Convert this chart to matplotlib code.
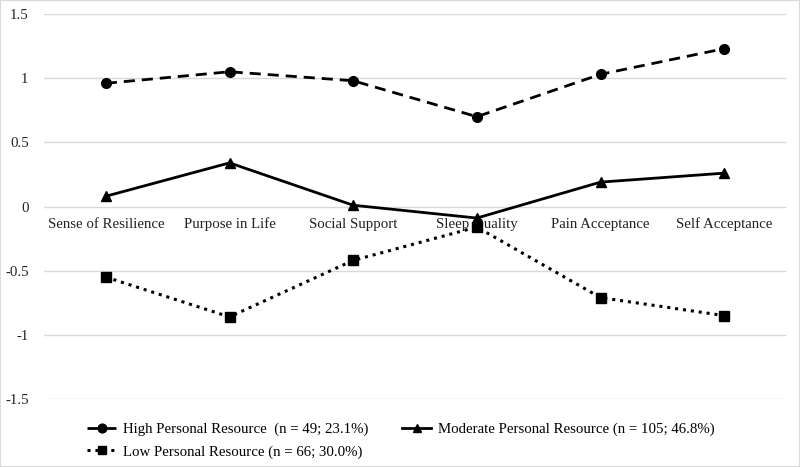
import numpy as np
import matplotlib
matplotlib.use("Agg")
from matplotlib import pyplot as plt

plt.rcParams['font.family'] = ['Liberation Serif', 'DejaVu Serif']

categories = ["Sense of Resilience", "Purpose in Life", "Social Support",
              "Sleep Quality", "Pain Acceptance", "Self Acceptance"]
high = [0.96, 1.05, 0.98, 0.70, 1.03, 1.23]
moderate = [0.08, 0.34, 0.01, -0.09, 0.19, 0.26]
low = [-0.55, -0.86, -0.42, -0.16, -0.71, -0.85]
labels = ["High Personal Resource  (n = 49; 23.1%)",
          "Moderate Personal Resource (n = 105; 46.8%)",
          "Low Personal Resource (n = 66; 30.0%)"]
yticks = [-1.5, -1, -0.5, 0, 0.5, 1, 1.5]
ytick_labels = ["-1.5", "-1", "-0.5", "0", "0.5", "1", "1.5"]

fs = 10.7
fig = plt.figure(figsize=(8, 4.67), dpi=100)
ax = fig.add_axes([0.055, 0.1456, 0.9275, 0.8244])

x = np.arange(len(categories))
h1, = ax.plot(x, high, color="black", lw=2, ls=(0, (4, 2.5)), marker="o",
              ms=7, label=labels[0])
h2, = ax.plot(x, moderate, color="black", lw=2, ls="-", marker="^",
              ms=7, label=labels[1])
h3, = ax.plot(x, low, color="black", lw=2.2, ls=(0, (1, 1.6)), marker="s",
              ms=7, label=labels[2])

ax.set_xlim(-0.5, len(categories) - 0.5)
ax.set_ylim(-1.5, 1.5)
ax.set_yticks(yticks)
ax.set_yticklabels(ytick_labels, fontsize=fs, color="#222222")
ax.set_xticks([])
ax.tick_params(axis="y", length=0, pad=11)
for s in ax.spines.values():
    s.set_visible(False)
ax.grid(axis="y", color="#d9d9d9", lw=1)
ax.set_axisbelow(True)

# category labels sit just under the zero line
for i, c in enumerate(categories):
    ax.annotate(c, (i, 0), xytext=(0, -8), textcoords="offset points",
                ha="center", va="top", fontsize=fs, color="#222222",
                zorder=1)

fig.legend([h1, h3, h2], [labels[0], labels[2], labels[1]], ncol=2,
           loc="lower left", bbox_to_anchor=(0.109, 0.018), frameon=False,
           fontsize=fs, handlelength=1.95, columnspacing=2.3,
           handletextpad=0.45, labelspacing=0.6, markerscale=0.9,
           borderpad=0, borderaxespad=0)

fig.patches.append(plt.Rectangle((0, 0), 1, 1, transform=fig.transFigure,
                                 fill=False, edgecolor="#d9d9d9", lw=1.5))

fig.savefig("out.png", dpi=100)
